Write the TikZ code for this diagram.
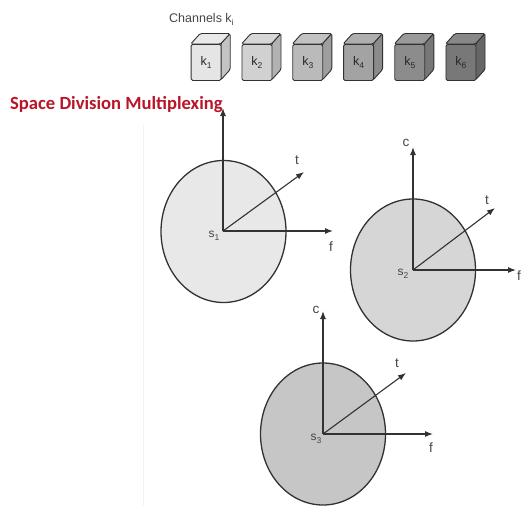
\documentclass[tikz,border=0pt]{standalone}
\usepackage{fontspec}
\setmainfont{Liberation Sans}
\newfontfamily\titlefont{Carlito}
\usetikzlibrary{arrows.meta,shapes.geometric}
\definecolor{titlered}{RGB}{185,20,40}
\definecolor{linegray}{RGB}{50,50,50}
\definecolor{textgray}{RGB}{70,70,70}
\definecolor{cubetext}{RGB}{40,40,40}
\definecolor{circA}{RGB}{232,232,232}
\definecolor{circB}{RGB}{214,214,214}
\definecolor{circC}{RGB}{198,198,198}
\newcommand\lowsub[1]{\raisebox{-3pt}{\fontsize{8.5}{8.5}\selectfont #1}}
\tikzset{
  axis/.style={draw=linegray, line width=1.1pt, -{Latex[length=8pt,width=6pt]}},
  disc/.style={draw=linegray, line width=1.3pt, ellipse, inner sep=0pt, minimum width=125pt, minimum height=142pt},
  axlabel/.style={text=textgray, font=\fontsize{13.5}{13.5}\selectfont, inner sep=0pt},
  slabel/.style={text=textgray, font=\fontsize{12}{12}\selectfont, inner sep=0pt},
  cubeface/.style={draw=linegray, line width=0.9pt, rounded corners=1.5pt, minimum width=30pt, minimum height=36pt, inner sep=0pt, text=cubetext, font=\fontsize{12.5}{12.5}\selectfont},
  cubeside/.style={draw=linegray, line width=0.9pt, rounded corners=1.5pt, line join=round},
}
\begin{document}
\begin{tikzpicture}[x=1pt,y=-1pt]
\useasboundingbox (0,0) rectangle (522,506);
\fill[white] (0,0) rectangle (522,506);
% faint scan edge
\draw[color=black!5, line width=0.8pt] (143,125) -- (143,506);

% channels header
\node[anchor=base west, text=textgray, font=\fontsize{12.5}{12.5}\selectfont, inner sep=0pt] (chan) at (169,22) {Channels k\lowsub{i}};

% cubes
\foreach \i/\x/\g in {1/190.7/90, 2/241.5/82, 3/292.3/73, 4/343.1/64, 5/394.3/55, 6/445.5/47} {
  \colorlet{cub}{white!\g!black}
  \fill[cub!88!white] (\x,44) -- ++(9.5,-10.5) -- ++(30,0) -- ++(-9.5,10.5) -- cycle;
  \draw[cubeside] (\x,44) -- ++(9.5,-10.5) -- ++(30,0) -- ++(-9.5,10.5) -- cycle;
  \fill[cub!85!black] (\x+30,44) -- ++(9.5,-10.5) -- ++(0,36) -- ++(-9.5,10.5) -- cycle;
  \draw[cubeside] (\x+30,44) -- ++(9.5,-10.5) -- ++(0,36) -- ++(-9.5,10.5) -- cycle;
  \node[cubeface, fill=cub, anchor=north west] (k\i) at (\x,44) {k\lowsub{\i}};
}

% title
\node[anchor=base west, inner sep=0pt, text=titlered, font=\titlefont\bfseries\fontsize{18.6}{20}\selectfont] (title) at (10,109.5) {Space Division Multiplexing};

% circle 1
\node[disc, fill=circA] (d1) at (223.5,231.5) {};
\coordinate (o1) at (223,231);
\coordinate (c1) at (223,108);
\coordinate (t1) at (304,172);
\coordinate (f1) at (333,231);
\draw[axis] (o1) -- (c1);
\draw[axis] (o1) -- (t1);
\draw[axis] (o1) -- (f1);
\node[axlabel] (lt1) at (297,160) {t};
\node[axlabel] (lf1) at (331,247) {f};
\node[slabel] (ls1) at (214,236) {s\lowsub{1}};

% circle 2
\node[disc, fill=circB] (d2) at (413,270) {};
\coordinate (o2) at (413,270);
\coordinate (c2) at (413,147);
\coordinate (t2) at (495,208);
\coordinate (f2) at (516,270);
\draw[axis] (o2) -- (c2);
\draw[axis] (o2) -- (t2);
\draw[axis] (o2) -- (f2);
\node[axlabel] (lc2) at (406,143) {c};
\node[axlabel] (lt2) at (487,200) {t};
\node[axlabel] (lf2) at (519,276) {f};
\node[slabel] (ls2) at (403,274) {s\lowsub{2}};

% circle 3
\node[disc, fill=circC] (d3) at (323,434) {};
\coordinate (o3) at (323,434);
\coordinate (c3) at (323,311);
\coordinate (t3) at (406,373);
\coordinate (f3) at (433,434);
\draw[axis] (o3) -- (c3);
\draw[axis] (o3) -- (t3);
\draw[axis] (o3) -- (f3);
\node[axlabel] (lc3) at (316,310) {c};
\node[axlabel] (lt3) at (397,363) {t};
\node[axlabel] (lf3) at (431,448) {f};
\node[slabel] (ls3) at (316,439) {s\lowsub{3}};
\end{tikzpicture}
\end{document}
